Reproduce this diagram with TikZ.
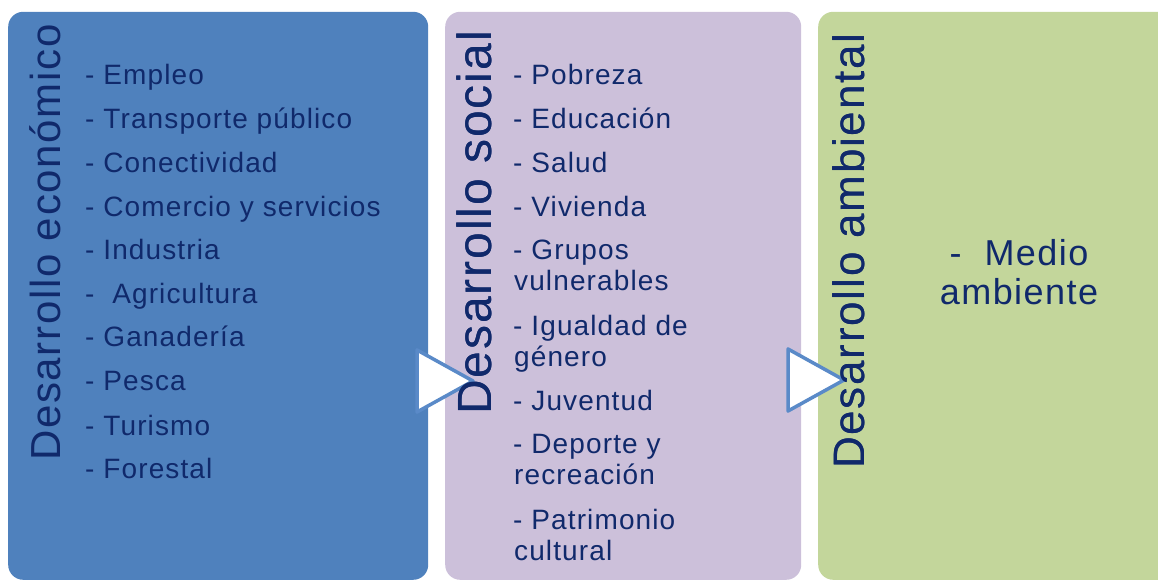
\documentclass[tikz,border=0pt]{standalone}
\usepackage{fontspec}
\setmainfont{Liberation Sans}[LetterSpace=4]
\usepackage{tikz}

\definecolor{ecoblue}{HTML}{4F81BD}
\definecolor{soclilac}{HTML}{CCC0DA}
\definecolor{ambgreen}{HTML}{C3D69B}
\definecolor{navytext}{HTML}{10296B}
\definecolor{triblue}{HTML}{5A8AC8}

\tikzset{
  card/.style={rectangle, rounded corners=15pt, anchor=south west, minimum height=568pt, inner sep=0pt},
  title/.style={rotate=90, anchor=base west, inner sep=0pt, text=navytext},
  item/.style={anchor=base west, inner sep=0pt, text=navytext, font=\fontsize{28}{33}\selectfont},
  tri/.style={fill=white, draw=triblue, line width=3.5pt, line join=round}
}

\begin{document}
\begin{tikzpicture}[x=1pt,y=1pt]
  \useasboundingbox (0,0) rectangle (1158,581);
  \clip (0,0) rectangle (1158,581);

  % the three boxes
  \node [card, fill=ecoblue, minimum width=420pt] (eco) at (8,1) {};
  \node [card, fill=soclilac, minimum width=356pt] (soc) at (445,1) {};
  \node [card, fill=ambgreen, minimum width=360pt] (amb) at (818,1) {};

  % titles
  \node [title, font=\fontsize{42}{50}\selectfont] (ecot) at (60,120) {Desarrollo económico};
  \node [title, font=\fontsize{48}{56}\selectfont] (soct) at (491,166) {Desarrollo social};
  \node [title, font=\fontsize{44}{52}\selectfont] (ambt) at (864,112) {Desarrollo ambiental};

  % economic items
  \node [item] (e1) at (85,496) {- Empleo};
  \node [item] (e2) at (85,452) {- Transporte público};
  \node [item] (e3) at (85,408) {- Conectividad};
  \node [item] (e4) at (85,364) {- Comercio y servicios};
  \node [item] (e5) at (85,321) {- Industria};
  \node [item] (e6) at (85,277) {-\ \ Agricultura};
  \node [item] (e7) at (85,234) {- Ganadería};
  \node [item] (e8) at (85,190) {- Pesca};
  \node [item] (e9) at (85,146) {- Turismo};
  \node [item] (e10) at (85,103) {- Forestal};

  % social items
  \node [item] (s1) at (513,496) {- Pobreza};
  \node [item] (s2) at (513,452) {- Educación};
  \node [item] (s3) at (513,408) {- Salud};
  \node [item] (s4) at (513,364) {- Vivienda};
  \node [item] (s5) at (513,321) {- Grupos};
  \node [item] (s5b) at (514,290) {vulnerables};
  \node [item] (s6) at (513,245) {- Igualdad de};
  \node [item] (s6b) at (514,214) {género};
  \node [item] (s7) at (513,171) {- Juventud};
  \node [item] (s8) at (513,128) {- Deporte y};
  \node [item] (s8b) at (514,97) {recreación};
  \node [item] (s9) at (513,52) {- Patrimonio};
  \node [item] (s9b) at (514,21) {cultural};

  % environmental item
  \node [item, anchor=base, font=\fontsize{36}{42}\selectfont] (a1) at (1019,315) {-\ \ Medio};
  \node [item, anchor=base, font=\fontsize{36}{42}\selectfont] (a1b) at (1019,276) {ambiente};

  % arrows between the boxes
  \coordinate (t1a) at (417,231);
  \coordinate (t1b) at (473,200);
  \coordinate (t1c) at (417,169);
  \coordinate (t2a) at (788,232);
  \coordinate (t2b) at (844,201);
  \coordinate (t2c) at (788,170);
  \draw [tri] (t1a) -- (t1b) -- (t1c) -- cycle;
  \draw [tri] (t2a) -- (t2b) -- (t2c) -- cycle;

  % redraw title over arrow tip
  \node [title, font=\fontsize{48}{56}\selectfont] at (491,166) {Desarrollo social};
  \node [title, font=\fontsize{44}{52}\selectfont] at (864,112) {Desarrollo ambiental};
\end{tikzpicture}
\end{document}
